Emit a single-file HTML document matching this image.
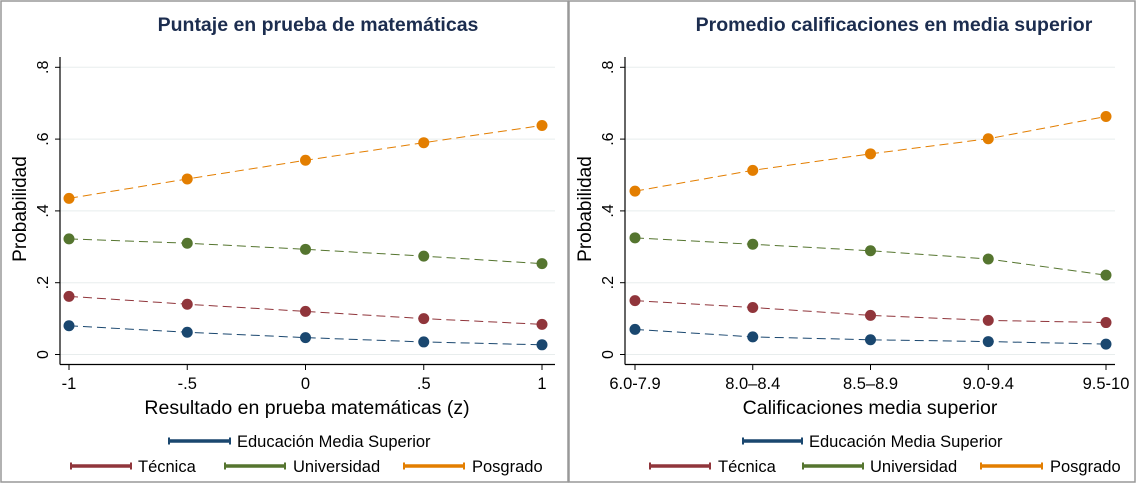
<!DOCTYPE html>
<html><head><meta charset="utf-8"><style>
body{margin:0;background:#fff}
svg{display:block;font-family:"Liberation Sans",sans-serif}
</style></head><body>
<svg id="c" width="1137" height="484" viewBox="0 0 1137 484"></svg>
<script>
const seriesNames=["Educación Media Superior","Técnica","Universidad","Posgrado"];
const colors=["#1a476f","#90353b","#55752f","#e37e00"];
const yTicks=[0,0.2,0.4,0.6,0.8];
const yTickLabels=["0",".2",".4",".6",".8"];
const leftCats=["-1","-.5","0",".5","1"];
const leftEdu=[0.080,0.062,0.047,0.035,0.027];
const leftTec=[0.162,0.140,0.120,0.100,0.084];
const leftUni=[0.322,0.310,0.293,0.274,0.253];
const leftPos=[0.435,0.489,0.541,0.590,0.638];
const rightCats=["6.0-7.9","8.0–8.4","8.5–8.9","9.0-9.4","9.5-10"];
const rightEdu=[0.070,0.049,0.041,0.036,0.029];
const rightTec=[0.150,0.131,0.109,0.095,0.089];
const rightUni=[0.325,0.307,0.289,0.266,0.221];
const rightPos=[0.455,0.513,0.559,0.601,0.663];

const svg=document.getElementById('c');
const NS="http://www.w3.org/2000/svg";
function mk(t,a,txt){const e=document.createElementNS(NS,t);for(const k in a)e.setAttribute(k,a[k]);if(txt!==undefined)e.textContent=txt;svg.appendChild(e);return e;}
const yScale=v=>354.5-v*359;

function panel(p){
  const b=mk('rect',{x:p.bx,y:1,width:p.bw,height:481,fill:'none',stroke:'#999','stroke-width':1.5});
  
  const t=mk('text',{x:p.tx,y:31,'text-anchor':'middle','font-size':19.5,'font-weight':'bold',fill:'#1c2d4f'},p.title);
  
  const xs=i=>p.x0+i*(p.x1-p.x0)/(p.cats.length-1);
  yTicks.forEach((v,i)=>{
    const y=yScale(v);
    const g=mk('line',{x1:p.ax,x2:p.ar,y1:y,y2:y,stroke:'#e8eded','stroke-width':1});
    
    mk('line',{x1:p.ax-5,x2:p.ax,y1:y,y2:y,stroke:'#000','stroke-width':1});
    const l=mk('text',{x:0,y:0,transform:`translate(${p.ax-12},${y}) rotate(-90)`,'text-anchor':'middle','font-size':16,fill:'#000'},yTickLabels[i]);
    
  });
  mk('line',{x1:p.ax,x2:p.ax,y1:57,y2:364.5,stroke:'#000','stroke-width':1.2});
  mk('line',{x1:p.ax,x2:p.ar,y1:364.5,y2:364.5,stroke:'#000','stroke-width':1.2});
  p.cats.forEach((c,i)=>{
    const x=xs(i);
    mk('line',{x1:x,x2:x,y1:364.5,y2:370,stroke:'#000','stroke-width':1});
    const l=mk('text',{x:x,y:389,'text-anchor':'middle','font-size':16.5,fill:'#000'},c);
    
  });
  const yl=mk('text',{x:0,y:0,transform:`translate(${p.ax-34},209) rotate(-90)`,'text-anchor':'middle','font-size':19,fill:'#000'},'Probabilidad');
  
  const xl=mk('text',{x:p.xlx,y:414,'text-anchor':'middle','font-size':19.5,fill:'#000'},p.xlabel);
  
  p.series.forEach((s,k)=>{
    const pts=s.map((v,i)=>xs(i)+','+yScale(v)).join(' ');
    const pl=mk('polyline',{points:pts,fill:'none',stroke:colors[k],'stroke-width':1,'stroke-dasharray':'9,5'});
    
    s.forEach((v,i)=>{
      const c=mk('circle',{cx:xs(i),cy:yScale(v),r:5.5,fill:colors[k]});
      
    });
  });
  p.leg.forEach((L,k)=>{
    const y=L[0];
    mk('line',{x1:L[1],x2:L[2],y1:y,y2:y,stroke:colors[k],'stroke-width':3.5});
    mk('line',{x1:L[1],x2:L[1],y1:y-3.5,y2:y+3.5,stroke:colors[k],'stroke-width':2});
    mk('line',{x1:L[2],x2:L[2],y1:y-3.5,y2:y+3.5,stroke:colors[k],'stroke-width':2});
    const lt=mk('text',{x:L[3],y:y+6,'font-size':16.5,fill:'#000'},seriesNames[k]);
    
  });
}
panel({id:'left',bx:1,bw:567,tx:318,title:'Puntaje en prueba de matemáticas',ax:60,ar:555,x0:69,x1:542,cats:leftCats,
  xlabel:'Resultado en prueba matemáticas (z)',xlx:307,series:[leftEdu,leftTec,leftUni,leftPos],
  leg:[[441,169,230,237],[466,71,131,138],[466,225,285,293],[466,404,464,472]]});
panel({id:'right',bx:569,bw:566,tx:894,title:'Promedio calificaciones en media superior',ax:625,ar:1115,x0:635,x1:1106,cats:rightCats,
  xlabel:'Calificaciones media superior',xlx:870,series:[rightEdu,rightTec,rightUni,rightPos],
  leg:[[441,743,802,809],[466,650,710,718],[466,803,863,870],[466,981,1042,1050]]});
</script>
</body></html>
